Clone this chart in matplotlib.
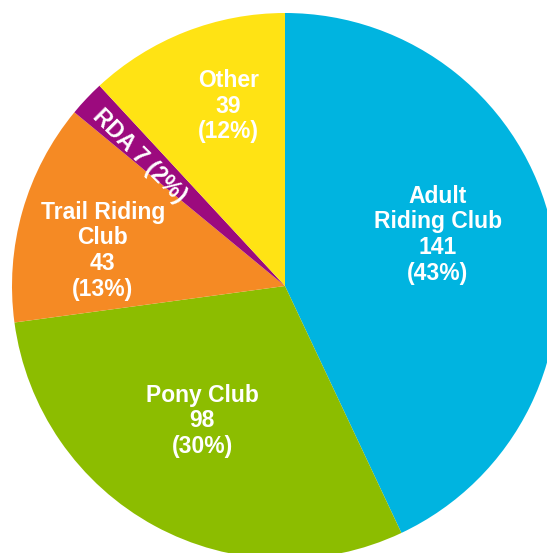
import numpy as np
import matplotlib.pyplot as plt

# ================= 数据 =================
categories = ["Adult\nRiding Club", "Pony Club", "Trail Riding\nClub", "RDA", "Other"]
counts = [141, 98, 43, 7, 39]
colors = ["#00B4E0", "#8CBD00", "#F58A24", "#9C0A7E", "#FFE314"]

# label placement (fraction of radius, angle offset in degrees)
label_dist = [0.59, 0.58, 0.68, 0.715, 0.69]
label_shift = [6, -3, 5, 1.5, -4]

plt.rcParams['font.family'] = ['Liberation Sans', 'DejaVu Sans']

W, H = 547, 553
fig = plt.figure(figsize=(W / 100, H / 100), dpi=100)
ax = fig.add_axes([0, 0, 1, 1])

cx, cy, r = 285, H - 286, 273
wedges, _ = ax.pie(counts, colors=colors, startangle=90, counterclock=False,
                   center=(cx, cy), radius=r, frame=True,
                   wedgeprops={'linewidth': 0})

total = sum(counts)
for i, w in enumerate(wedges):
    mid = 0.5 * (w.theta1 + w.theta2) + label_shift[i]
    x = cx + label_dist[i] * r * np.cos(np.deg2rad(mid))
    y = cy + label_dist[i] * r * np.sin(np.deg2rad(mid))
    pct = round(100 * counts[i] / total)
    if categories[i] == "RDA":
        txt = f"RDA {counts[i]} ({pct}%)"
        ax.text(x, y, txt, ha='center', va='center', rotation=-45,
                rotation_mode='anchor', color='white', fontsize=16.5,
                fontweight='bold')
    else:
        txt = f"{categories[i]}\n{counts[i]}\n({pct}%)"
        ax.text(x, y, txt, ha='center', va='center', color='white',
                fontsize=16.5, fontweight='bold', linespacing=1.15)

ax.set_xlim(0, W)
ax.set_ylim(0, H)
ax.axis('off')

fig.savefig("out.png", dpi=100)
